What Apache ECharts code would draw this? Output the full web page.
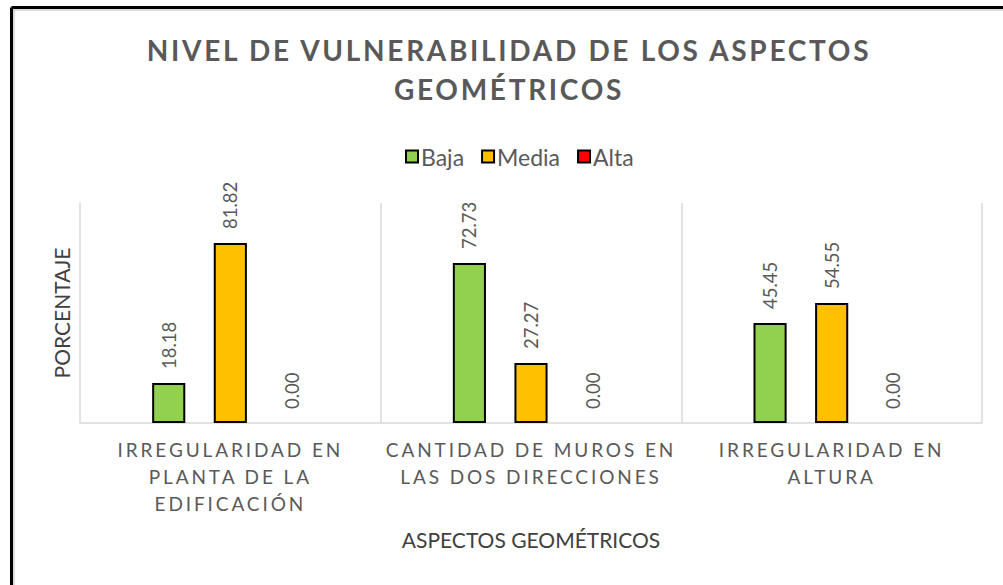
<!DOCTYPE html>
<html>
<head>
<meta charset="utf-8">
<script src="https://cdn.jsdelivr.net/npm/echarts@6/dist/echarts.min.js"></script>
<style>
  html, body { margin: 0; padding: 0; background: #fff; }
  #chart { width: 1003px; height: 585px; }
  /* spaced capitals for the title and the category labels */
  #chart text[style*="28px"] { letter-spacing: 2.7px; }
  #chart text[style*="sans-serif"][style*="19px"] { letter-spacing: 2.9px; }
</style>
</head>
<body>
<div id="chart"></div>
<script>
const categories = [
  'IRREGULARIDAD EN\nPLANTA DE LA\nEDIFICACIÓN',
  'CANTIDAD DE MUROS EN\nLAS DOS DIRECCIONES',
  'IRREGULARIDAD EN\nALTURA'
];
const seriesNames = ['Baja', 'Media', 'Alta'];
const baja = [18.18, 72.73, 45.45];
const media = [81.82, 27.27, 54.55];
const alta = [0.00, 0.00, 0.00];

const colors = ['#92D050', '#FFC000', '#FF0000'];
const textGray = '#595959';

const chart = echarts.init(document.getElementById('chart'), null, { renderer: 'svg' });

function barSeries(name, values, color) {
  return {
    name: name,
    type: 'bar',
    data: values,
    barGap: '86%',
    barCategoryGap: '48%',
    // a zero-height bar keeps no outline on the baseline
    itemStyle: { color: color, borderColor: '#000', borderWidth: values.every(v => v === 0) ? 0 : 2 },
    label: {
      show: true,
      position: 'top',
      rotate: 90,
      align: 'left',
      verticalAlign: 'middle',
      distance: 14,
      fontFamily: 'Lato',
      fontSize: 18.5,
      color: textGray,
      formatter: p => p.value.toFixed(2)
    }
  };
}

chart.setOption({
  animation: false,
  backgroundColor: '#fff',
  title: {
    text: 'NIVEL DE VULNERABILIDAD DE LOS ASPECTOS\nGEOMÉTRICOS',
    left: 509,
    top: 30,
    padding: 0,
    textAlign: 'center',
    textStyle: {
      fontFamily: 'Lato',
      fontSize: 28,
      fontWeight: 'bold',
      color: textGray,
      lineHeight: 39
    }
  },
  legend: {
    data: seriesNames.map((n, i) => ({
      name: n,
      itemStyle: { color: colors[i], borderColor: '#000', borderWidth: 2 }
    })),
    left: 400,
    top: 140,
    icon: 'rect',
    itemWidth: 12,
    itemHeight: 12,
    itemGap: 17,
    textStyle: { fontFamily: 'Lato', fontSize: 23, color: textGray, padding: [0, 0, 0, -2] }
  },
  graphic: [
    { type: 'line', shape: { x1: 11.5, y1: 7.5, x2: 1003, y2: 7.5 }, style: { stroke: '#000', lineWidth: 3 }, silent: true },
    { type: 'line', shape: { x1: 11.5, y1: 7.5, x2: 11.5, y2: 585 }, style: { stroke: '#000', lineWidth: 3 }, silent: true },
    { type: 'line', shape: { x1: 13, y1: 10, x2: 1003, y2: 10 }, style: { stroke: '#d0d0d0', lineWidth: 1.5 }, silent: true },
    { type: 'line', shape: { x1: 14, y1: 10, x2: 14, y2: 585 }, style: { stroke: '#d0d0d0', lineWidth: 1.5 }, silent: true }
  ],
  grid: { left: 80, right: 21, top: 203, bottom: 162 },
  xAxis: {
    type: 'category',
    data: categories,
    axisLine: { show: true, lineStyle: { color: '#d9d9d9', width: 1.5 } },
    axisTick: { show: false },
    splitLine: { show: true, lineStyle: { color: '#d9d9d9', width: 1.5 } },
    axisLabel: {
      interval: 0,
      margin: 13,
      fontFamily: 'Lato, sans-serif',
      fontSize: 19,
      lineHeight: 27,
      color: textGray
    },
    name: 'ASPECTOS GEOMÉTRICOS',
    nameLocation: 'middle',
    nameGap: 106,
    nameTextStyle: { fontFamily: 'Lato', fontSize: 21, color: '#404040' }
  },
  yAxis: {
    type: 'value',
    min: 0,
    max: 100,
    axisLine: { show: false },
    axisTick: { show: false },
    axisLabel: { show: false },
    splitLine: { show: false },
    name: 'PORCENTAJE',
    nameLocation: 'middle',
    nameGap: 8,
    nameTextStyle: { fontFamily: 'Lato', fontSize: 21, color: '#404040' }
  },
  series: [
    barSeries(seriesNames[0], baja, colors[0]),
    barSeries(seriesNames[1], media, colors[1]),
    barSeries(seriesNames[2], alta, colors[2])
  ]
});
</script>
</body>
</html>
